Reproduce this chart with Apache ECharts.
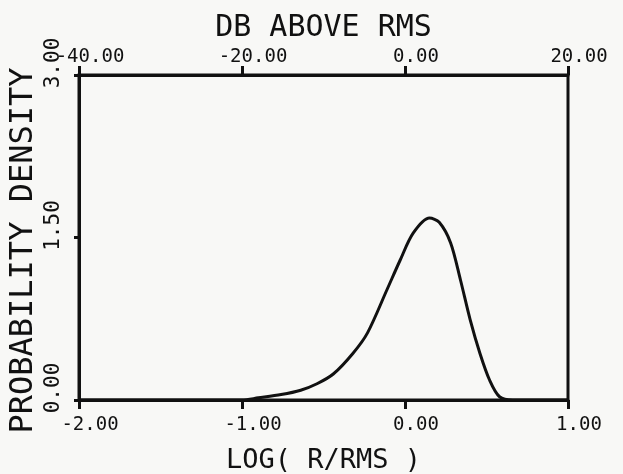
<!DOCTYPE html>
<html>
<head>
<meta charset="utf-8">
<script src="https://cdn.jsdelivr.net/npm/echarts@6/dist/echarts.min.js"></script>
<style>
html,body{margin:0;padding:0;background:#f8f8f6;}
#chart{width:623px;height:474px;}
</style>
</head>
<body>
<div id="chart"></div>
<script>
// Data
var logX    = [-2.0, -1.0, -0.9, -0.76, -0.64, -0.54, -0.44, -0.32, -0.23, -0.11, -0.03, 0.05, 0.15, 0.21, 0.28, 0.34, 0.40, 0.46, 0.52, 0.58, 0.66, 1.0];
var density = [0, 0, 0.02, 0.05, 0.09, 0.15, 0.24, 0.43, 0.62, 1.02, 1.29, 1.54, 1.68, 1.64, 1.45, 1.11, 0.74, 0.43, 0.18, 0.03, 0, 0];
var xTitle = 'LOG( R/RMS )';
var topTitle = 'DB ABOVE RMS';
var yTitle = 'PROBABILITY DENSITY';

var ink = '#111';
var font = 'DejaVu Sans Mono';
var pairs = logX.map(function (x, i) { return [x, density[i]]; });

var chart = echarts.init(document.getElementById('chart'));
chart.setOption({
  backgroundColor: '#f8f8f6',
  animation: false,
  grid: { left: 79, right: 55, top: 75, bottom: 74, containLabel: false, outerBoundsMode: 'none',
    show: true, borderColor: ink, borderWidth: 3, backgroundColor: 'transparent' },
  xAxis: [{
    type: 'value', position: 'bottom', min: -2, max: 1, interval: 1,
    name: xTitle, nameLocation: 'middle', nameGap: 47, nameMoveOverlap: false,
    nameTextStyle: { fontFamily: font, fontSize: 27, color: ink, verticalAlign: 'top' },
    axisLine: { show: true, onZero: false, lineStyle: { color: ink, width: 3 } },
    axisTick: { show: true, length: 9, lineStyle: { color: ink, width: 3 } },
    splitLine: { show: false },
    axisLabel: { color: ink, fontFamily: font, fontSize: 19, margin: 16, padding: [0, 0, 0, 22],
      formatter: function (v) { return v.toFixed(2); } }
  }, {
    type: 'value', position: 'top', min: -40, max: 20, interval: 20,
    name: topTitle, nameLocation: 'middle', nameGap: 32, nameMoveOverlap: false,
    nameTextStyle: { fontFamily: font, fontSize: 30, color: ink, verticalAlign: 'bottom' },
    axisLine: { show: true, onZero: false, lineStyle: { color: ink, width: 3 } },
    axisTick: { show: true, length: 9, lineStyle: { color: ink, width: 3 } },
    splitLine: { show: false },
    axisLabel: { color: ink, fontFamily: font, fontSize: 19, margin: 8, padding: [0, 0, 0, 22],
      formatter: function (v) { return v.toFixed(2); } }
  }],
  yAxis: [{
    type: 'value', min: 0, max: 3, interval: 1.5,
    name: yTitle, nameLocation: 'middle', nameGap: 39, nameRotate: 90, nameMoveOverlap: false,
    nameTextStyle: { fontFamily: font, fontSize: 32, color: ink, verticalAlign: 'bottom', padding: [0, 26, 0, 0] },
    axisLine: { show: true, onZero: false, lineStyle: { color: ink, width: 3 } },
    axisTick: { show: true, length: 5, lineStyle: { color: ink, width: 3 } },
    splitLine: { show: false },
    axisLabel: { color: ink, fontFamily: font, fontSize: 21, rotate: 90, margin: 15, align: 'center', verticalAlign: 'bottom',
      padding: [0, 0, 0, 24],
      formatter: function (v) { return v.toFixed(2); } }
  }],
  series: [{
    type: 'line', xAxisIndex: 0, yAxisIndex: 0, data: pairs,
    smooth: 0.3, showSymbol: false,
    lineStyle: { color: ink, width: 3 }
  }]
});
</script>
</body>
</html>
